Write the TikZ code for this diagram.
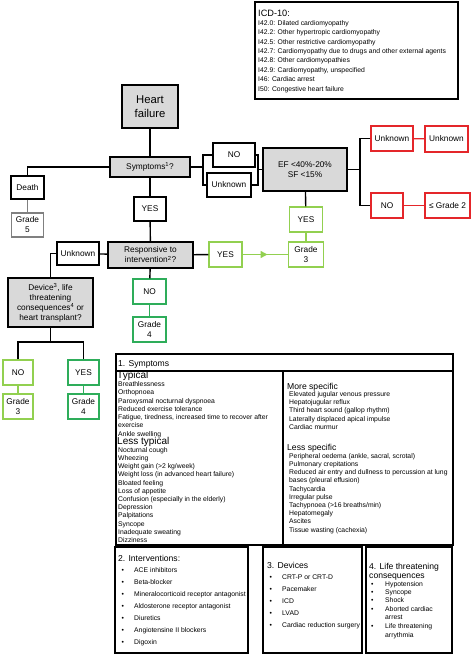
\documentclass[tikz,border=0pt]{standalone}
\usepackage{fontspec}
\setmainfont{Liberation Sans}
\usetikzlibrary{arrows.meta,calc,decorations.markings}
\definecolor{hfgrey}{HTML}{D9D9D9}
\definecolor{hfline}{HTML}{808080}
\definecolor{hflight}{HTML}{92D050}
\definecolor{hfdark}{HTML}{2EAD5A}
\definecolor{hfred}{HTML}{E4262A}
\tikzset{
  >=Stealth,
  box/.style={draw=black,line width=1.4pt,fill=white,align=center,inner sep=1pt,
              font=\fontsize{8.3}{10}\selectfont},
  qbox/.style={box,fill=hfgrey},
  redbox/.style={box,draw=hfred},
  litebox/.style={box,draw=hflight},
  darkbox/.style={box,draw=hfdark},
  greybox/.style={box,draw=hfline},
  link/.style={line width=1.4pt,draw=black},
  litelink/.style={line width=1.4pt,draw=hflight},
  darklink/.style={line width=1.4pt,draw=hfdark},
  redlink/.style={line width=1.4pt,draw=hfred},
  greylink/.style={line width=1.4pt,draw=hfline},
  midarrow/.style={postaction={decorate},decoration={markings,
    mark=at position 0.55 with {\arrow{Triangle[length=7pt,width=7pt,color=hflight]}}}},
  panel/.style={draw=black,line width=1.6pt},
  heavypanel/.style={draw=black,line width=2.2pt},
  item/.style={anchor=base west,inner sep=0pt,font=\fontsize{6.8}{8}\selectfont},
  head/.style={anchor=base west,inner sep=0pt,font=\fontsize{8.6}{9.5}\selectfont},
  bighead/.style={anchor=base west,inner sep=0pt,font=\fontsize{10}{11}\selectfont},
}

\begin{document}
\begin{tikzpicture}[x=1pt,y=-1pt]
  \useasboundingbox (0,0) rectangle (474,655);

  % ===== ICD-10 legend =====
  \draw[panel] (255,2) rectangle (458,99);
  \node[head,font=\fontsize{9.2}{10}\selectfont] (icd) at (258,16.5) {ICD-10:};
  \foreach \t [count=\i] in {I42.0: Dilated cardiomyopathy, I42.2: Other hypertropic cardiomyopathy,
      I42.5: Other restrictive cardiomyopathy, I42.7: Cardiomyopathy due to drugs and other external agents,
      I42.8: Other cardiomyopathies, {I42.9: Cardiomyopathy, unspecified}, I46: Cardiac arrest,
      I50: Congestive heart failure}{
    \node[item] (icd\i) at (258,{25.3+9.4*(\i-1)}) {\t};
  }

  % ===== decision tree =====
  \node[qbox,minimum width=56pt,minimum height=43pt,font=\fontsize{11.3}{14}\selectfont]
    (hf) at (150,106.5) {Heart\\failure};
  \node[qbox,minimum width=80pt,minimum height=20pt] (sym) at (150,167) {Symptoms\textsuperscript{1}?};
  \node[box,minimum width=33pt,minimum height=23pt] (death) at (27.5,187.5) {Death};
  \node[greybox,minimum width=32pt,minimum height=24pt] (g5) at (27.5,225) {Grade\\5};
  \node[box,minimum width=32pt,minimum height=24pt] (yes1) at (150,209) {YES};
  \node[box,minimum width=42pt,minimum height=24pt] (no1) at (234,155) {NO};
  \node[box,minimum width=44pt,minimum height=24pt] (unk1) at (229,185) {Unknown};
  \node[qbox,minimum width=84pt,minimum height=43pt] (ef) at (305,169.5) {EF <40\%-20\%\\SF <15\%};

  \node[redbox,minimum width=42pt,minimum height=25pt] (unkr1) at (392,138.5) {Unknown};
  \node[redbox,minimum width=43pt,minimum height=26pt] (unkr2) at (446.5,139) {Unknown};
  \node[redbox,minimum width=32pt,minimum height=25pt] (nor) at (387,205.5) {NO};
  \node[redbox,minimum width=45pt,minimum height=25pt] (g2) at (447.5,205.5) {≤ Grade 2};

  \node[litebox,minimum width=33pt,minimum height=25pt] (yesg) at (306,219.5) {YES};
  \node[litebox,minimum width=35pt,minimum height=25pt] (g3a) at (306,254.5) {Grade\\3};
  \node[litebox,minimum width=33pt,minimum height=25pt] (yesr) at (225.5,254.5) {YES};

  \node[qbox,minimum width=85pt,minimum height=26pt] (resp) at (150.5,255)
    {Responsive to\\intervention\textsuperscript{2}?};
  \node[box,minimum width=42pt,minimum height=23pt] (unk2) at (78,253.5) {Unknown};
  \node[qbox,minimum width=85pt,minimum height=49pt] (dev) at (50.5,302.5)
    {Device\textsuperscript{3}, life\\threatening\\consequences\textsuperscript{4} or\\heart transplant?};
  \node[darkbox,minimum width=33pt,minimum height=25pt] (no2) at (149.5,291.5) {NO};
  \node[darkbox,minimum width=33pt,minimum height=25pt] (g4a) at (149.5,329.5) {Grade\\4};

  \node[litebox,minimum width=30pt,minimum height=25pt] (no3) at (18,372.5) {NO};
  \node[darkbox,minimum width=31pt,minimum height=25pt] (yes3) at (83.5,372.5) {YES};
  \node[litebox,minimum width=30pt,minimum height=25pt] (g3b) at (18,406.5) {Grade\\3};
  \node[darkbox,minimum width=31pt,minimum height=25pt] (g4b) at (83.5,406.5) {Grade\\4};

  % connectors
  \draw[link] (hf) -- (sym);
  \draw[link] (sym.west) -| (death.north);
  \draw[greylink] (death) -- (g5);
  \draw[link] (sym) -- (yes1);
  \draw[link] (yes1) -- (resp);
  \coordinate (bl) at (203,167);
  \coordinate (br) at (258,169.5);
  \draw[link] (sym.east) -- (bl);
  \draw[link] (no1.west) -| (bl) |- (unk1.west);
  \draw[link] (no1.east) -| (br) |- (unk1.east);
  \draw[link] (br) -- (ef.west);
  \coordinate (er) at (360,169.5);
  \draw[link] (ef.east) -- (er);
  \draw[link] (unkr1.west) -| (er) |- (nor.west);
  \draw[redlink] (unkr1) -- (unkr2);
  \draw[redlink] (nor) -- (g2);
  \draw[link] (ef) -- (yesg);
  \draw[litelink] (yesg) -- (g3a);
  \draw[link] (resp) -- (yesr);
  \draw[litelink,midarrow] (yesr) -- (g3a);
  \draw[link] (resp) -- (unk2);
  \draw[link] (unk2.west) -| (dev.north);
  \draw[link] (resp) -- (no2);
  \draw[darklink] (no2) -- (g4a);
  \coordinate (dj) at (50.5,342);
  \draw[link] (dev.south) -- (dj);
  \draw[link] (no3.north) |- (dj) -| (yes3.north);
  \draw[litelink] (no3) -- (g3b);
  \draw[darklink] (yes3) -- (g4b);

  % ===== 1. Symptoms =====
  \draw[panel] (116,354) rectangle (453,371);
  \draw[panel] (116,371) rectangle (283,545);
  \draw[panel] (283,371) rectangle (453,545);
  \node[head] (symh) at (118,366) {1. Symptoms};
  \node[bighead] (typ) at (117,378.5) {Typical};
  \foreach \t [count=\i] in {Breathlessness, Orthopnoea, Paroxysmal nocturnal dyspnoea,
      Reduced exercise tolerance, {Fatigue, tiredness, increased time to recover after},
      exercise, Ankle swelling}{
    \node[item] (typ\i) at (118,{386.5+8.25*(\i-1)}) {\t};
  }
  \node[bighead] (ltyp) at (117,444.5) {Less typical};
  \foreach \t [count=\i] in {Nocturnal cough, Wheezing, {Weight gain (>2 kg/week)},
      Weight loss (in advanced heart failure), Bloated feeling, Loss of appetite,
      Confusion (especially in the elderly), Depression, Palpitations, Syncope,
      Inadequate sweating, Dizziness}{
    \node[item] (ltyp\i) at (118,{452.3+8.2*(\i-1)}) {\t};
  }
  \node[head] (mspec) at (287,389) {More specific};
  \foreach \t [count=\i] in {Elevated jugular venous pressure, Hepatojugular reflux,
      Third heart sound (gallop rhythm), Laterally displaced apical impulse, Cardiac murmur}{
    \node[item] (mspec\i) at (289,{396.5+8.2*(\i-1)}) {\t};
  }
  \node[head] (lspec) at (287,450) {Less specific};
  \foreach \t [count=\i] in {{Peripheral oedema (ankle, sacral, scrotal)}, Pulmonary crepitations,
      Reduced air entry and dullness to percussion at lung, bases (pleural effusion),
      Tachycardia, Irregular pulse, {Tachypnoea (>16 breaths/min)}, Hepatomegaly, Ascites,
      Tissue wasting (cachexia)}{
    \node[item] (lspec\i) at (289,{458.3+8.2*(\i-1)}) {\t};
  }

  % ===== 2. Interventions =====
  \draw[heavypanel] (115,547) rectangle (248,653);
  \node[head] (intv) at (118,561) {2. Interventions:};
  \foreach \t [count=\i] in {ACE inhibitors, Beta-blocker, Mineralocorticoid receptor antagonist,
      Aldosterone receptor antagonist, Diuretics, Angiotensine II blockers, Digoxin}{
    \node[item] (intb\i) at (121.5,{572.3+12*(\i-1)}) {•};
    \node[item] (int\i) at (134,{572.3+12*(\i-1)}) {\t};
  }

  % ===== 3. Devices =====
  \draw[heavypanel] (263,547) rectangle (362,653);
  \node[head] (devh) at (267,568) {3. Devices};
  \foreach \t [count=\i] in {CRT-P or CRT-D, Pacemaker, ICD, LVAD, Cardiac reduction surgery}{
    \node[item] (devb\i) at (269.5,{579.3+12*(\i-1)}) {•};
    \node[item] (dev\i) at (282,{579.3+12*(\i-1)}) {\t};
  }

  % ===== 4. Life threatening consequences =====
  \draw[heavypanel] (366,547) rectangle (452,653);
  \node[head] (lth1) at (369,569) {4. Life threatening};
  \node[head] (lth2) at (369,578.5) {consequences};
  \foreach \y/\t [count=\i] in {586.3/Hypotension, 594.3/Syncope, 602.3/Shock,
      611.3/Aborted cardiac, 619.3/arrest, 628.3/Life threatening, 637.3/arrythmia}{
    \node[item] (lt\i) at (385,\y) {\t};
  }
  \foreach \y [count=\i] in {586.3,594.3,602.3,611.3,628.3}{
    \node[item] (ltb\i) at (371,\y) {•};
  }
\end{tikzpicture}
\end{document}
